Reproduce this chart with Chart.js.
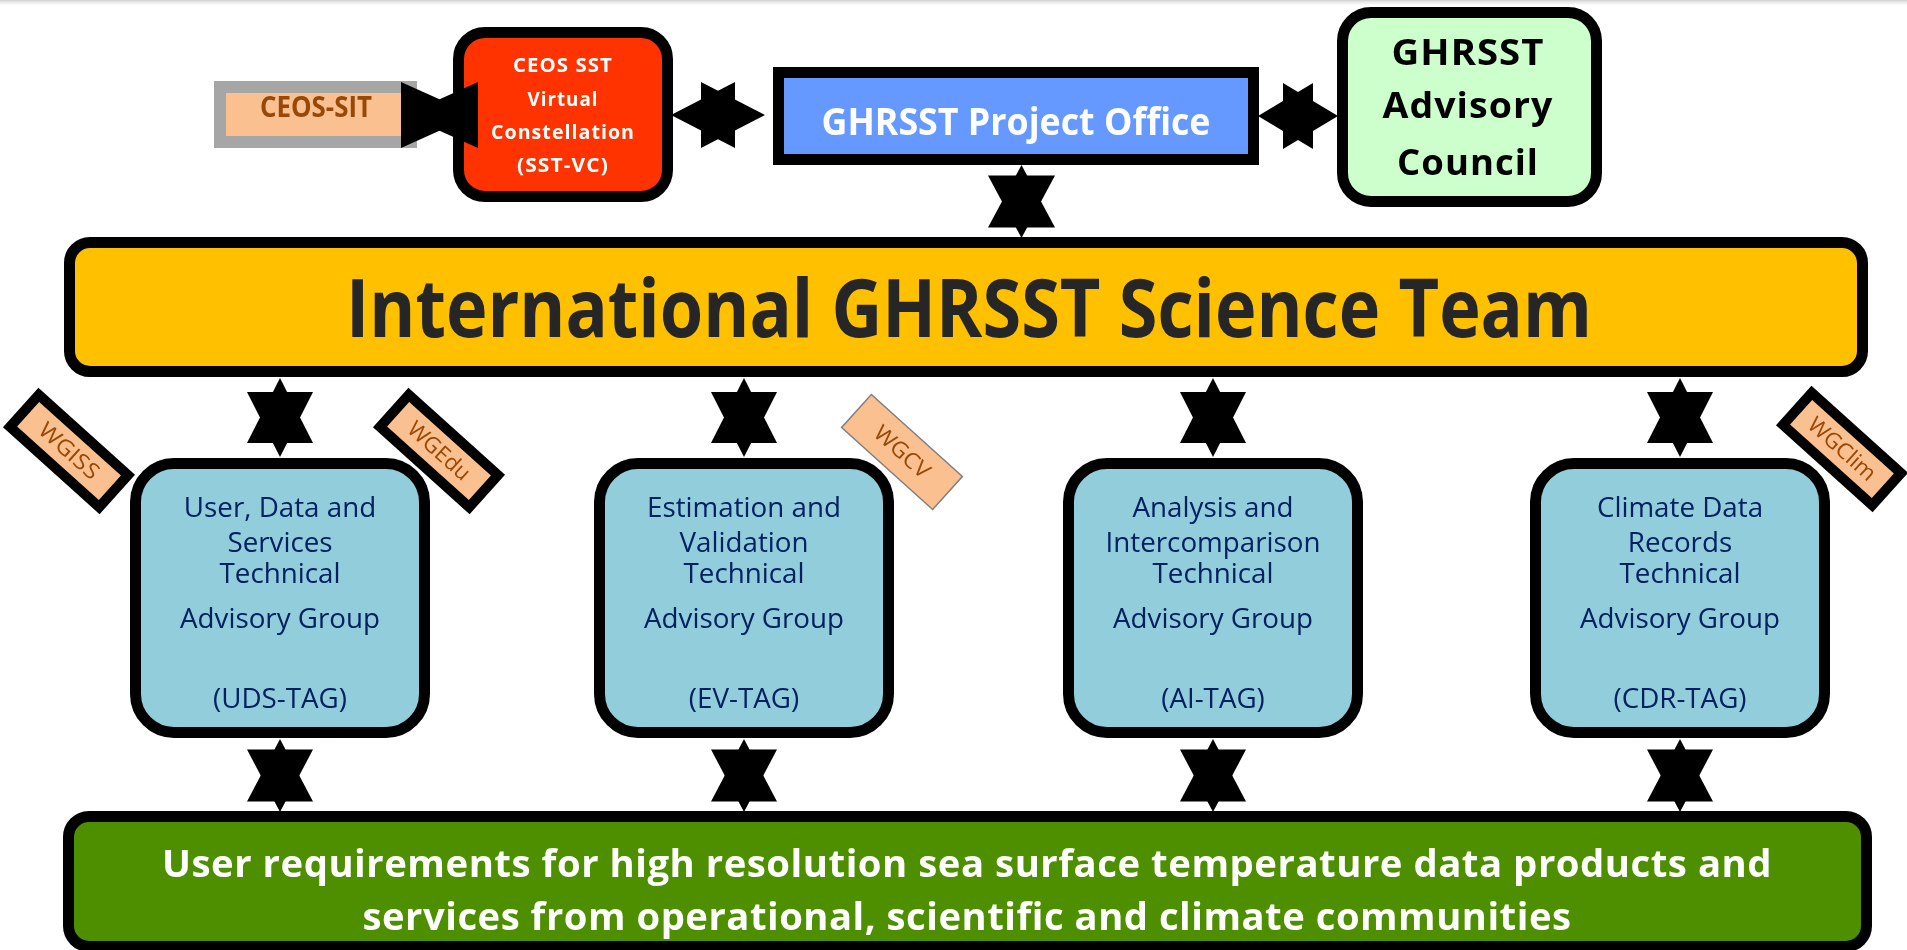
<!DOCTYPE html>
<html>
<head>
<meta charset="utf-8">
<script src="https://cdn.jsdelivr.net/npm/chart.js@4"></script>
<style>
  html, body { margin: 0; padding: 0; background: #fff; overflow: hidden; }
  canvas { display: block; }
</style>
</head>
<body>
<canvas id="org" width="1907" height="950"></canvas>
<script>
// texts of the diagram
var sitLabel = 'CEOS-SIT';
var vcLines = ['CEOS SST', 'Virtual', 'Constellation', '(SST-VC)'];
var officeLabel = 'GHRSST Project Office';
var councilLines = ['GHRSST', 'Advisory', 'Council'];
var teamLabel = 'International GHRSST Science Team';
var tagNames = [
  ['User, Data and', 'Services', 'Technical'],
  ['Estimation and', 'Validation', 'Technical'],
  ['Analysis and', 'Intercomparison', 'Technical'],
  ['Climate Data', 'Records', 'Technical']
];
var tagGroup = 'Advisory Group';
var tagCodes = ['(UDS-TAG)', '(EV-TAG)', '(AI-TAG)', '(CDR-TAG)'];
var wgLabels = ['WGISS', 'WGEdu', 'WGCV', 'WGClim'];
var userLines = [
  'User requirements for high resolution sea surface temperature data products and',
  'services from operational, scientific and climate communities'
];

// layout, in the 1907 x 950 units of the hidden scales
var L = {
  sit:     { x: 214, y: 81, w: 203, h: 67 },
  vc:      { x: 453, y: 27, w: 220, h: 175 },
  office:  { x: 773, y: 67, w: 486, h: 98 },
  council: { x: 1337, y: 7, w: 265, h: 200 },
  team:    { x: 64, y: 237, w: 1804, h: 140 },
  user:    { x: 63, y: 811, w: 1809, h: 141 },
  tagX: [130, 594, 1063, 1530], tagY: 458, tagW: 300, tagH: 280,
  tagLineY: [517, 552, 583, 628, 708],
  // star: centre, tip reach H, base offset B, half spread W
  bowtie: { x: 439.5, y: 115, H: 35, B: 38.5, W: 33, dir: 'h' },
  stars: [
    { x: 718, y: 115, H: 47, B: 17, W: 33, dir: 'h' },
    { x: 1298, y: 116, H: 40, B: 15, W: 33, dir: 'h' },
    { x: 1021.5, y: 201.5, H: 36.5, B: 26, W: 33.5, dir: 'v' }
  ],
  tagStarTop: { y: 417.5, H: 39.5, B: 25.5, W: 33 },
  tagStarBottom: { y: 775.5, H: 36.5, B: 26, W: 33 },
  tabs: [
    { x: 69, y: 451, len: 130, wid: 53, heavy: true, fit: 73 },
    { x: 439, y: 451, len: 130, wid: 53, heavy: true, fit: 76 },
    { x: 902, y: 452, len: 124, wid: 46, heavy: false, fit: 67 },
    { x: 1842, y: 449, len: 130, wid: 53, heavy: true, fit: 83 }
  ],
  tabAngle: 42
};

var FONT = '"Open Sans", "Noto Sans", sans-serif';

var diagram = {
  id: 'diagram',
  afterDraw: function (chart) {
    var ctx = chart.ctx, sx = chart.scales.x, sy = chart.scales.y;
    function X(v) { return sx.getPixelForValue(v); }
    function Y(v) { return sy.getPixelForValue(v); }

    function box(b, fill, edge, bw, r) {
      var x0 = X(b.x), y0 = Y(b.y), x1 = X(b.x + b.w), y1 = Y(b.y + b.h);
      ctx.save();
      ctx.beginPath();
      ctx.roundRect(x0 + bw / 2, y0 + bw / 2, x1 - x0 - bw, y1 - y0 - bw, Math.max(0, r - bw / 2));
      ctx.fillStyle = fill;
      ctx.fill();
      ctx.lineWidth = bw;
      ctx.strokeStyle = edge;
      ctx.stroke();
      ctx.restore();
    }

    function star(s) {
      var cx = X(s.x), cy = Y(s.y), H = s.H, B = s.B, W = s.W;
      var tris = s.dir === 'h'
        ? [[[-B, -W], [-B, W], [H, 0]], [[B, -W], [B, W], [-H, 0]]]
        : [[[-W, -B], [W, -B], [0, H]], [[-W, B], [W, B], [0, -H]]];
      ctx.fillStyle = '#000';
      tris.forEach(function (t) {
        ctx.beginPath();
        ctx.moveTo(cx + t[0][0], cy + t[0][1]);
        ctx.lineTo(cx + t[1][0], cy + t[1][1]);
        ctx.lineTo(cx + t[2][0], cy + t[2][1]);
        ctx.closePath();
        ctx.fill();
      });
    }

    function scaleFor(s, font, fit, spacing) {
      ctx.save();
      ctx.font = font;
      ctx.letterSpacing = spacing || '0px';
      var m = ctx.measureText(s).width;
      ctx.restore();
      return fit / m;
    }

    function text(s, x, y, font, color, k, spacing) {
      ctx.save();
      ctx.font = font;
      ctx.letterSpacing = spacing || '0px';
      ctx.translate(X(x), Y(y));
      ctx.scale(k, 1);
      ctx.fillStyle = color;
      ctx.textAlign = 'center';
      ctx.textBaseline = 'alphabetic';
      ctx.fillText(s, 0, 0);
      ctx.restore();
    }

    function fitText(s, x, y, font, color, fit, spacing) {
      text(s, x, y, font, color, scaleFor(s, font, fit, spacing), spacing);
    }

    function tab(t, label) {
      var bw = t.heavy ? 10 : 1.5;
      var font = '22px ' + FONT;
      var k = scaleFor(label, font, t.fit);
      ctx.save();
      ctx.translate(X(t.x), Y(t.y));
      ctx.rotate(L.tabAngle * Math.PI / 180);
      ctx.beginPath();
      ctx.rect(-t.len / 2 + bw / 2, -t.wid / 2 + bw / 2, t.len - bw, t.wid - bw);
      ctx.fillStyle = '#FAC090';
      ctx.fill();
      ctx.lineWidth = bw;
      ctx.strokeStyle = t.heavy ? '#000' : '#7f7f7f';
      ctx.stroke();
      ctx.font = font;
      ctx.scale(k, 1);
      ctx.fillStyle = '#984807';
      ctx.textAlign = 'center';
      ctx.textBaseline = 'middle';
      ctx.fillText(label, 0, 1);
      ctx.restore();
    }

    // page
    ctx.save();
    ctx.fillStyle = '#fff';
    ctx.fillRect(0, 0, chart.width, chart.height);
    var g = ctx.createLinearGradient(0, 0, 0, 7);
    g.addColorStop(0, '#cfcfcf');
    g.addColorStop(1, 'rgba(255,255,255,0)');
    ctx.fillStyle = g;
    ctx.fillRect(0, 0, chart.width, 7);
    ctx.restore();

    box(L.sit, '#FAC090', '#A6A6A6', 12, 0);

    // connectors
    L.stars.forEach(star);
    L.tagX.forEach(function (tx) {
      var c = tx + L.tagW / 2;
      [L.tagStarTop, L.tagStarBottom].forEach(function (p) {
        star({ x: c, y: p.y, H: p.H, B: p.B, W: p.W, dir: 'v' });
      });
    });

    box(L.vc, '#FF3300', '#000', 11, 32);
    box(L.office, '#6699FF', '#000', 11, 0);
    box(L.council, '#CCFFCC', '#000', 11, 34);
    box(L.team, '#FFC000', '#000', 11, 26);
    box(L.user, '#4E8F00', '#000', 11, 26);
    L.tagX.forEach(function (tx) {
      box({ x: tx, y: L.tagY, w: L.tagW, h: L.tagH }, '#92CDDC', '#000', 11, 44);
    });

    star(L.bowtie);

    L.tabs.forEach(function (t, i) { tab(t, wgLabels[i]); });

    // labels
    fitText(sitLabel, 316, 117, 'bold 28px ' + FONT, '#984807', 112);

    var vcFit = [100, 71, 144, 92], vcBase = [72, 106, 139, 172];
    vcLines.forEach(function (s, i) {
      fitText(s, 563, vcBase[i], 'bold 19px ' + FONT, '#fff', vcFit[i], '1px');
    });

    fitText(officeLabel, 1016, 135, 'bold 38px ' + FONT, '#fff', 389);

    var cFit = [153, 171, 142], cBase = [65, 118, 175];
    councilLines.forEach(function (s, i) {
      fitText(s, 1468, cBase[i], 'bold 36px ' + FONT, '#000', cFit[i], '1px');
    });

    fitText(teamLabel, 969, 337, 'bold 80px ' + FONT, '#262626', 1246);

    var tagFont = '27px ' + FONT;
    var kTag = scaleFor(tagGroup, tagFont, 200);
    L.tagX.forEach(function (tx, i) {
      var c = tx + L.tagW / 2;
      tagNames[i].forEach(function (s, j) {
        text(s, c, L.tagLineY[j], tagFont, '#002060', kTag);
      });
      text(tagGroup, c, L.tagLineY[3], tagFont, '#002060', kTag);
      text(tagCodes[i], c, L.tagLineY[4], tagFont, '#002060', kTag);
    });

    fitText(userLines[0], 967, 877, 'bold 38px ' + FONT, '#fff', 1610, '0.5px');
    fitText(userLines[1], 967, 930, 'bold 38px ' + FONT, '#fff', 1209, '0.5px');
  }
};

new Chart(document.getElementById('org'), {
  type: 'scatter',
  data: {
    datasets: [{
      data: L.stars.map(function (s) { return { x: s.x, y: s.y }; }),
      pointRadius: 0
    }]
  },
  options: {
    responsive: false,
    animation: false,
    devicePixelRatio: 1,
    layout: { padding: 0 },
    scales: {
      x: { type: 'linear', min: 0, max: 1907, display: false },
      y: { type: 'linear', min: 0, max: 950, reverse: true, display: false }
    },
    plugins: { legend: { display: false }, tooltip: { enabled: false } }
  },
  plugins: [diagram]
});
</script>
</body>
</html>
